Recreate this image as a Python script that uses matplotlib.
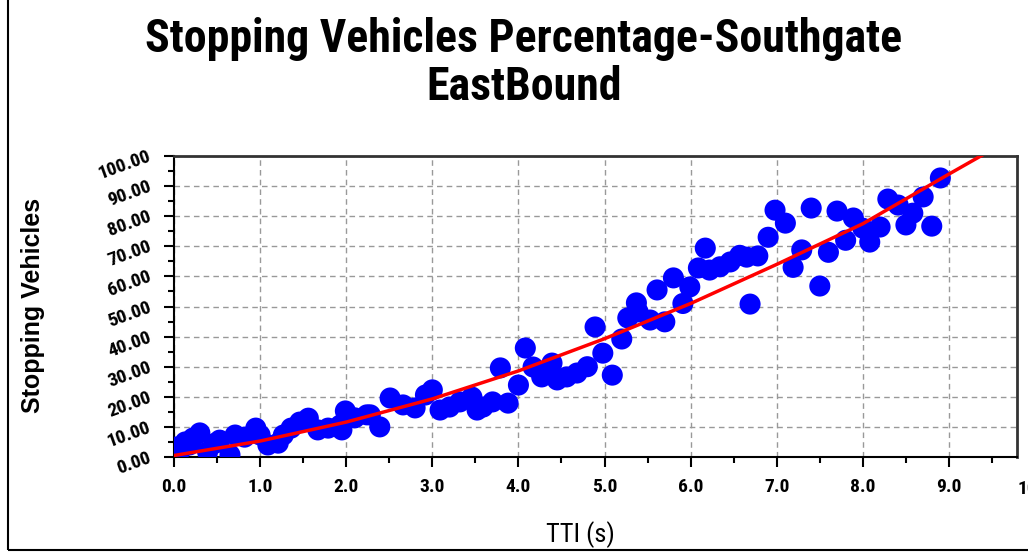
import matplotlib
matplotlib.use("Agg")
from matplotlib import pyplot as plt
from matplotlib.patches import Rectangle
from matplotlib.ticker import MultipleLocator

# scatter data (TTI in s, stopping vehicles in %)
tti = [0.02, 0.08, 0.13, 0.18, 0.22, 0.30, 0.39, 0.48, 0.53, 0.65,
       0.71, 0.82, 0.95, 1.00, 1.09, 1.21, 1.27, 1.36, 1.46, 1.56,
       1.67, 1.79, 1.93, 1.95, 1.99, 2.10, 2.24, 2.28, 2.39, 2.51,
       2.66, 2.80, 2.92, 3.00, 3.09, 3.20, 3.32, 3.46, 3.52, 3.59,
       3.70, 3.79, 3.88, 4.00, 4.08, 4.17, 4.27, 4.39, 4.45, 4.56,
       4.68, 4.80, 4.89, 4.98, 5.09, 5.20, 5.27, 5.37, 5.39, 5.53,
       5.61, 5.70, 5.80, 5.91, 5.99, 6.09, 6.17, 6.22, 6.34, 6.46,
       6.57, 6.65, 6.69, 6.78, 6.90, 6.98, 7.10, 7.19, 7.29, 7.40,
       7.50, 7.60, 7.70, 7.80, 7.89, 8.00, 8.08, 8.20, 8.29, 8.41,
       8.50, 8.58, 8.70, 8.80, 8.90]
stopping = [3.3, 2.5, 5.0, 4.0, 6.3, 8.0, 1.7, 4.6, 5.6, 0.7,
            7.3, 6.6, 9.6, 7.3, 4.0, 4.6, 7.3, 9.6, 11.6, 12.9,
            9.0, 9.6, 10.6, 9.0, 15.3, 13.0, 14.0, 14.0, 10.0, 19.6,
            17.3, 16.3, 20.6, 22.3, 15.6, 16.6, 18.3, 19.9, 15.6, 16.6,
            18.3, 29.6, 17.9, 23.9, 36.2, 29.9, 26.6, 31.2, 25.6, 26.6,
            27.9, 30.0, 43.2, 34.5, 27.2, 39.2, 46.2, 51.2, 48.2, 45.5,
            55.5, 44.9, 59.5, 51.0, 56.5, 62.8, 69.4, 62.1, 63.2, 64.8,
            67.0, 66.4, 50.8, 66.8, 73.0, 82.0, 77.7, 63.0, 68.8, 82.7,
            56.8, 68.0, 81.7, 72.0, 79.4, 76.0, 71.4, 76.4, 85.7, 83.7,
            77.1, 81.0, 86.4, 76.7, 92.7]

# trend line
trend_x = [0.0, 1.0, 2.0, 3.0, 4.0, 5.0, 6.0, 7.0, 8.0, 9.0, 9.4]
trend_y = [0.5, 5.3, 11.6, 19.3, 28.6, 39.3, 51.0, 64.0, 77.5, 94.0, 100.5]

x_ticks = [0, 1, 2, 3, 4, 5, 6, 7, 8, 9]
y_ticks = [0, 10, 20, 30, 40, 50, 60, 70, 80, 90, 100]

narrow = ["Roboto Condensed", "DejaVu Sans"]
plt.rcParams["font.family"] = ["Liberation Sans", "DejaVu Sans"]

fig = plt.figure(figsize=(10.28, 5.53), dpi=100)
fig.patches.append(Rectangle((8 / 1028, 3 / 553), 1.2, 1.0, transform=fig.transFigure,
                             fill=False, edgecolor="black", linewidth=1.5))

ax = fig.add_axes([174 / 1028, 96 / 553, 843 / 1028, 301 / 553])
ax.scatter(tti, stopping, s=230, color="#0000ff", edgecolors="none", zorder=3)
ax.plot(trend_x, trend_y, color="red", linewidth=2.5, zorder=4)

ax.set_xlim(0, 9.79)
ax.set_ylim(0, 100)
ax.set_xticks(x_ticks)
ax.set_yticks(y_ticks)
ax.xaxis.set_minor_locator(MultipleLocator(0.5))
ax.yaxis.set_minor_locator(MultipleLocator(5))
ax.set_xticklabels([f"{v:.1f}" for v in x_ticks], family=narrow, fontweight="bold", fontsize=14)
ax.set_yticklabels([f"{v:.2f}" for v in y_ticks], family=narrow, fontweight="bold",
                   fontsize=14, rotation=20, rotation_mode="anchor", ha="right", va="center")
# the 10.0 label sits past the end of the axis and gets cut by the picture edge
ax.text(10.0, -0.105, "10.0", transform=ax.get_xaxis_transform(), ha="center", va="center",
        family=narrow, fontweight="bold", fontsize=14, clip_on=False)

ax.tick_params(which="major", length=7, width=1.5, color="black", pad=8)
ax.tick_params(which="minor", length=4, width=1.5, color="black")
ax.tick_params(axis="y", which="major", pad=10)
ax.grid(True, which="major", linestyle=(0, (4, 3)), color="#999999", linewidth=1)
ax.set_axisbelow(True)
for side in ["left", "bottom"]:
    ax.spines[side].set_linewidth(1.5)
    ax.spines[side].set_color("black")
for side in ["top", "right"]:
    ax.spines[side].set_linewidth(2)
    ax.spines[side].set_color("#333333")

fig.text(524 / 1028, 1 - 63 / 553, "Stopping Vehicles Percentage-Southgate\nEastBound",
         ha="center", va="center", family=narrow, fontweight="bold", fontsize=33,
         linespacing=1.12)
fig.text(33 / 1028, 1 - 305 / 553, "Stopping Vehicles", rotation=90, ha="center", va="center",
         fontweight="bold", fontsize=18)
fig.text(580 / 1028, 1 - 535 / 553, "TTI (s)", ha="center", va="center",
         family=narrow, fontsize=19)

fig.savefig("out.png", dpi=100)
